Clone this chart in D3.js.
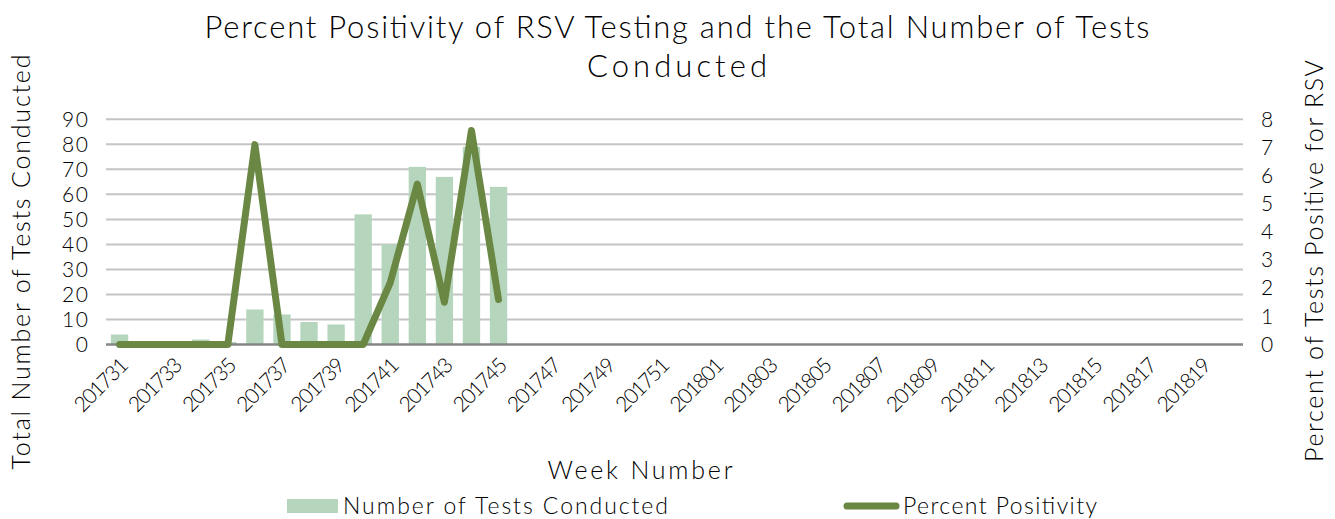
<!DOCTYPE html>
<html>
<head>
<meta charset="utf-8">
<script src="https://cdn.jsdelivr.net/npm/d3@7"></script>
<style>
  body { margin: 0; background: #fff; }
  text { font-family: "Lato", "Open Sans", sans-serif; fill: #000; font-weight: 300; }
</style>
</head>
<body>
<svg id="canvas" width="1335" height="519"></svg>
<script>
// week labels on the axis (2017 wk 31 .. 2018 wk 20)
const weeks = [
  "201731","201732","201733","201734","201735","201736","201737","201738","201739","201740",
  "201741","201742","201743","201744","201745","201746","201747","201748","201749","201750",
  "201751","201752","201801","201802","201803","201804","201805","201806","201807","201808",
  "201809","201810","201811","201812","201813","201814","201815","201816","201817","201818",
  "201819","201820"
];
// reported weeks so far
const dataWeeks = weeks.slice(0, 15);
const testsConducted = [4, 0, 0, 2, 1, 14, 12, 9, 8, 52, 40, 71, 67, 79, 63];
const percentPositive = [0, 0, 0, 0, 0, 7.1, 0, 0, 0, 0, 2.2, 5.7, 1.5, 7.6, 1.6];
const leftTicks = [0, 10, 20, 30, 40, 50, 60, 70, 80, 90];
const rightTicks = [0, 1, 2, 3, 4, 5, 6, 7, 8];

const barColor = "#b5d6bc";
const lineColor = "#6a8843";

const svg = d3.select('#canvas');
const plotLeft = 106, plotRight = 1243, plotTop = 119.3, plotBottom = 344.5;

const x = d3.scaleBand().domain(weeks).range([plotLeft, plotRight]).paddingInner(0.36).paddingOuter(0.18);
const yL = d3.scaleLinear().domain([0, 90]).range([plotBottom, plotTop]);
const yR = d3.scaleLinear().domain([0, 8]).range([plotBottom, plotTop]);

// gridlines
svg.append('g')
  .selectAll('line')
  .data(leftTicks.slice(1))
  .join('line')
  .attr('x1', plotLeft).attr('x2', plotRight)
  .attr('y1', d => yL(d)).attr('y2', d => yL(d))
  .style('stroke', '#c4c4c4')
  .style('stroke-width', 2);

// bars
svg.append('g')
  .selectAll('rect')
  .data(testsConducted)
  .join('rect')
  .attr('x', (d, i) => x(dataWeeks[i]))
  .attr('width', x.bandwidth())
  .attr('y', d => yL(d))
  .attr('height', d => plotBottom - yL(d))
  .style('fill', barColor);

// baseline
svg.append('line')
  .attr('x1', plotLeft).attr('x2', plotRight)
  .attr('y1', plotBottom).attr('y2', plotBottom)
  .style('stroke', '#868686')
  .style('stroke-width', 2.5);

// percent positivity line
const line = d3.line()
  .x((d, i) => x(dataWeeks[i]) + x.bandwidth() / 2)
  .y(d => yR(d));

svg.append('path')
  .datum(percentPositive)
  .attr('d', line)
  .style('fill', 'none')
  .style('stroke', lineColor)
  .style('stroke-width', 7)
  .style('stroke-linejoin', 'round')
  .style('stroke-linecap', 'round');

// left axis
const leftAxis = d3.axisLeft(yL).tickValues(leftTicks).tickSize(0).tickPadding(18);
const gl = svg.append('g').attr('transform', `translate(${plotLeft},0)`).call(leftAxis);
gl.select('.domain').remove();
gl.selectAll('text').style('font-size', '21px').attr('font-family', null)
  .attr('textLength', d => d < 10 ? 13 : 26).attr('lengthAdjust', 'spacing');

// right axis
const rightAxis = d3.axisRight(yR).tickValues(rightTicks).tickSize(0).tickPadding(18);
const gr = svg.append('g').attr('transform', `translate(${plotRight},0)`).call(rightAxis);
gr.select('.domain').remove();
gr.selectAll('text').style('font-size', '21px').attr('font-family', null);

// bottom axis, every other week labelled
const bottomAxis = d3.axisBottom(x).tickValues(weeks.filter((d, i) => i % 2 === 0)).tickSize(0);
const gb = svg.append('g').attr('transform', `translate(0,${plotBottom})`).call(bottomAxis);
gb.select('.domain').remove();
gb.selectAll('text')
  .attr('font-family', null)
  .style('font-size', '21px')
  .attr('text-anchor', 'end')
  .attr('dy', null)
  .attr('y', 0)
  .attr('textLength', 66)
  .attr('lengthAdjust', 'spacing')
  .attr('transform', 'translate(10,22) rotate(-45)');

// titles
function label(txt, xPos, yPos, size, len, rot) {
  return svg.append('text')
    .attr('transform', `translate(${xPos},${yPos})` + (rot ? ' rotate(-90)' : ''))
    .attr('text-anchor', 'middle')
    .attr('textLength', len)
    .attr('lengthAdjust', 'spacing')
    .style('font-size', size + 'px')
    .text(txt);
}
label('Percent Positivity of RSV Testing and the Total Number of Tests', 677, 38, 31, 945);
label('Conducted', 677, 77, 31, 180);
label('Total Number of Tests Conducted', 30, 262, 25, 415, true);
label('Percent of Tests Positive for RSV', 1323, 261, 25, 402, true);
label('Week Number', 640, 479, 25, 185);

// legend
const legend = svg.append('g');
legend.append('rect')
  .attr('x', 287).attr('y', 499).attr('width', 51).attr('height', 14)
  .style('fill', barColor);
legend.append('text')
  .attr('x', 343).attr('y', 514)
  .attr('textLength', 325)
  .attr('lengthAdjust', 'spacing')
  .style('font-size', '23px')
  .text('Number of Tests Conducted');
legend.append('line')
  .attr('x1', 847).attr('x2', 896).attr('y1', 506).attr('y2', 506)
  .style('stroke', lineColor).style('stroke-width', 7).style('stroke-linecap', 'round');
legend.append('text')
  .attr('x', 903).attr('y', 514)
  .attr('textLength', 194)
  .attr('lengthAdjust', 'spacing')
  .style('font-size', '23px')
  .text('Percent Positivity');
</script>
</body>
</html>
